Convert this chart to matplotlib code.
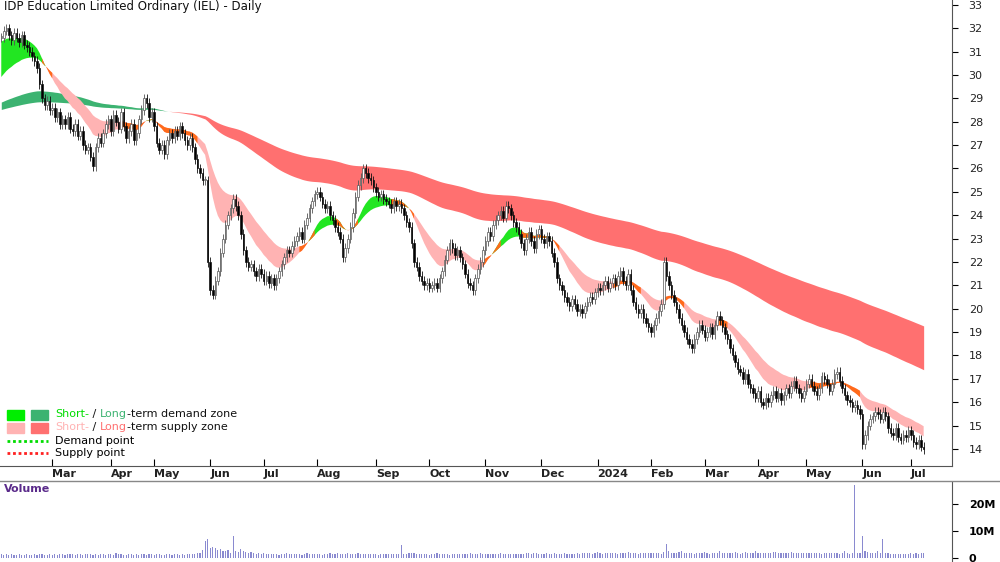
import numpy as np
import matplotlib
matplotlib.use("Agg")
import matplotlib.pyplot as plt
from matplotlib.patches import Rectangle
from matplotlib.lines import Line2D

title = "IDP Education Limited Ordinary (IEL) - Daily"
closes = [
31.6,31.9,32.0,31.7,31.5, 31.8,31.6,31.4,31.7,31.3, 31.2,31.0,30.8,30.6,30.3, 29.6,29.0,28.7,28.9,28.5,
28.6,28.2,28.4,27.9,28.1, 27.9,28.2,27.7,27.6,27.9, 27.4,27.6,27.0,26.8,26.9, 26.5,26.1,26.9,27.3,27.1,
27.5,27.9,28.1,27.6,28.3, 28.0,27.7,28.4,27.8,27.3, 27.6,27.9,27.2,27.5,28.1, 28.5,29.0,28.8,28.2,28.4,
27.8,27.1,26.8,27.0,26.6, 27.2,27.5,27.3,27.6,27.4, 27.8,27.5,27.2,27.0,27.3, 26.9,26.4,26.0,25.8,25.5,
25.5,22.0,20.8,20.6,21.2, 21.6,22.4,23.0,23.6,24.0, 24.3,24.7,24.4,24.0,23.2, 22.5,22.0,21.8,21.9,21.6,
21.4,21.7,21.5,21.2,21.4, 21.1,21.3,21.0,21.3,21.6, 21.9,22.2,22.5,22.4,22.7, 22.9,23.1,23.3,23.0,23.6,
23.9,24.3,24.6,24.9,25.0, 24.8,24.5,24.3,24.4,24.0, 23.8,23.5,23.3,23.0,22.2, 22.6,23.0,23.5,24.1,24.8,
25.3,25.6,26.0,25.8,25.6, 25.5,25.2,25.0,24.8,24.9, 24.7,24.6,24.5,24.3,24.6, 24.4,24.5,24.3,24.0,23.7,
23.5,22.8,22.0,21.8,21.4, 21.2,21.0,21.1,20.9,21.0, 21.1,20.9,21.3,21.6,22.1, 22.5,22.8,22.6,22.3,22.5,
22.2,21.9,21.5,21.1,21.0, 20.8,21.3,21.7,22.0,22.5, 22.9,23.3,23.1,23.6,23.8, 24.0,24.2,23.9,24.4,24.3,
24.0,23.7,23.5,23.2,22.8, 22.5,23.0,23.3,22.9,22.6, 23.2,23.4,23.0,22.8,23.1, 22.9,22.4,22.0,21.3,21.0,
20.8,20.5,20.3,20.1,20.4, 20.2,19.9,20.0,19.8,20.1, 20.3,20.5,20.4,20.7,20.9, 20.8,21.0,21.2,20.9,21.1,
21.3,21.0,21.4,21.6,21.2, 21.0,21.5,20.8,20.3,20.0, 19.8,20.0,19.6,19.4,19.2, 19.0,19.3,19.6,19.9,20.2,
22.0,21.4,21.0,20.6,20.3, 20.0,19.6,19.3,19.0,18.7, 18.5,18.3,18.7,19.0,19.3, 19.1,18.8,19.0,19.2,18.9,
19.3,19.7,19.5,19.2,18.9, 18.7,18.3,18.0,17.7,17.4, 17.3,17.0,17.2,16.8,16.6, 16.4,16.2,16.5,16.0,15.9,
16.2,16.0,16.3,16.5,16.2, 16.4,16.1,16.3,16.6,16.4, 16.7,16.9,16.6,16.4,16.2, 16.5,16.8,17.0,16.7,16.5,
16.3,16.6,17.1,17.0,16.8, 16.5,16.8,17.2,17.3,16.9, 16.6,16.3,16.1,16.0,15.8, 15.9,15.7,15.5,14.2,14.6,
15.0,15.3,15.4,15.6,15.5, 15.3,15.6,15.4,14.9,14.7, 14.6,14.9,14.5,14.4,14.6, 14.5,14.8,14.6,14.3,14.2,
14.4,14.1,14.0]
volume_m = [
1.5,1.2,1.4,1.1,1.3, 1.2,1.0,1.3,1.1,1.2, 1.4,1.1,1.0,1.3,1.2, 1.6,1.3,1.2,1.1,1.4, 1.2,1.3,1.1,1.5,1.3,
1.2,1.4,1.6,1.3,1.2, 1.5,1.3,1.1,1.4,1.6, 1.3,1.2,1.5,1.1,1.3, 1.4,1.2,1.6,1.3,1.2, 1.8,1.3,1.4,1.2,1.1,
1.3,1.5,1.2,1.3,1.1, 1.4,1.3,1.2,1.5,1.3, 1.2,1.4,1.3,1.1,1.2, 1.3,1.5,1.2,1.4,1.3, 1.2,1.3,1.1,1.4,1.6,
1.3,1.5,1.8,2.0,3.0, 6.2,7.0,3.5,4.2,3.8, 3.0,3.3,2.6,2.4,2.8, 2.0,8.2,2.5,2.2,3.4, 2.6,2.2,1.8,2.1,1.7,
1.6,1.8,1.5,1.7,1.4, 1.5,1.3,1.6,1.4,1.2, 1.5,1.3,1.7,1.4,1.6, 1.3,1.5,1.4,1.2,1.6, 1.8,1.5,1.3,1.4,1.6,
1.4,1.2,1.5,1.3,1.7, 1.5,1.4,2.0,1.6,1.3, 1.6,1.8,1.5,1.4,1.3, 1.7,1.4,1.6,1.3,1.5, 1.4,1.3,1.5,1.2,1.4,
1.3,1.5,1.6,1.4,1.5, 1.3,1.5,4.8,1.6,1.4, 1.8,2.0,1.7,1.5,1.6, 1.4,1.3,1.5,1.2,1.6, 1.4,1.7,1.5,1.3,1.4,
1.5,1.2,1.4,1.6,1.3, 1.4,1.6,1.5,1.3,1.7, 1.6,1.4,1.5,1.8,1.6, 1.5,1.3,1.6,1.4,1.5, 1.4,1.7,1.5,1.3,1.6,
1.5,1.4,1.6,1.3,1.5, 1.6,2.0,1.7,1.5,1.8, 1.7,1.5,1.6,1.4,1.8, 1.6,1.5,1.7,1.4,1.6, 1.5,1.7,1.6,1.4,1.5,
1.6,1.8,1.5,1.7,2.0, 1.7,1.9,1.6,1.8,2.1, 1.7,1.6,1.9,1.8,1.7, 2.0,1.8,1.6,1.9,1.7, 1.8,2.2,1.9,1.7,1.8,
1.6,1.9,1.8,2.0,1.7, 1.8,1.7,2.0,1.9,1.6, 2.2,5.2,2.6,2.0,1.8, 1.9,2.1,2.4,1.8,1.7, 2.0,1.8,1.6,1.9,1.8,
1.7,2.2,1.9,1.6,1.7, 1.9,1.8,2.5,1.7,1.9, 1.7,2.0,1.8,2.1,1.8, 1.6,1.9,2.2,1.7,1.9, 1.8,2.4,2.0,1.8,1.7,
1.9,2.0,1.8,2.2,2.1, 1.8,1.9,2.0,1.7,1.8, 2.1,1.9,1.7,2.0,1.9, 1.7,1.8,2.0,1.8,1.7, 1.9,1.8,1.6,1.7,1.8,
1.7,2.0,1.8,1.9,1.6, 1.9,2.6,1.9,1.6,1.8, 27.0,1.8,2.0,8.0,2.6, 2.2,2.0,1.9,1.8,2.4, 1.7,7.0,1.8,1.7,1.5,
1.4,1.6,1.5,1.3,1.6, 1.4,1.5,1.7,1.4,1.9, 1.6,1.8,2.0]
month_labels = ["Mar","Apr","May","Jun","Jul","Aug","Sep","Oct","Nov","Dec","2024","Feb","Mar","Apr","May","Jun","Jul"]
month_idx = [20,43,60,82,103,124,147,168,190,212,234,255,276,297,316,338,357]
price_ticks = list(range(14, 34))
short_periods = (15, 30)
long_periods = (130, 230)
short_seeds = (31.4, 29.8)
long_seeds = (28.8, 28.5)

c = np.array(closes)
n = len(c)
o = np.concatenate([[c[0]], c[:-1]])
hi = np.maximum(o, c) + 0.2
lo = np.minimum(o, c) - 0.2
vol = np.array((volume_m + [1.5] * n)[:n])

def ema(x, p, seed):
    a = 2 / (p + 1)
    out = np.empty(len(x)); v = seed
    for i, xv in enumerate(x):
        v = v + a * (xv - v); out[i] = v
    return out

sf, ss = ema(c, short_periods[0], short_seeds[0]), ema(c, short_periods[1], short_seeds[1])
lf, ls = ema(c, long_periods[0], long_seeds[0]), ema(c, long_periods[1], long_seeds[1])
x = np.arange(n)

fig = plt.figure(figsize=(10, 5.62), dpi=100)
W, H = 1000, 562
ax = fig.add_axes([0, (H - 466) / H, 952 / W, 466 / H])
axv = fig.add_axes([0, 0, 952 / W, 80 / H])
xmin, xmax = -0.5, 952 / 2.548 - 0.5
ax.set_xlim(xmin, xmax); axv.set_xlim(xmin, xmax)
ax.set_ylim(13.27, 33.21)

ax.fill_between(x, lf, ls, where=lf >= ls, color="#3cb371", lw=0, interpolate=True)
ax.fill_between(x, lf, ls, where=lf < ls, color="#ff7070", lw=0, interpolate=True)
thin = np.abs(sf - ss) < 0.3
ax.fill_between(x, sf, ss, where=(sf >= ss), color="#22e622", lw=0, interpolate=True)
ax.fill_between(x, sf, ss, where=(sf < ss), color="#ffb3b3", lw=0, interpolate=True)
ax.fill_between(x, sf, ss, where=thin, color="#ff6a1a", lw=0, interpolate=True)

for i in range(n):
    up = c[i] >= o[i]
    col = "#555555" if up else "#111111"
    ax.vlines(i, lo[i], hi[i], color=col, lw=0.6, zorder=3)
    b0, b1 = min(o[i], c[i]), max(o[i], c[i])
    if b1 - b0 < 0.05:
        b1 = b0 + 0.05
    ax.add_patch(Rectangle((i - 0.3, b0), 0.6, b1 - b0, facecolor="white" if up else "black",
                           edgecolor=col, lw=0.5, zorder=4))

ax.yaxis.tick_right()
ax.set_yticks(price_ticks)
ax.set_yticklabels([str(t) for t in price_ticks], fontsize=8, color="#222222")
ax.tick_params(axis="y", direction="out", length=4, pad=8)
ax.set_xticks(month_idx)
ax.set_xticklabels(month_labels, fontsize=8, fontweight="bold", ha="left", color="#222222")
ax.tick_params(axis="x", direction="in", length=5, pad=2)
for s in ["top", "left"]:
    ax.spines[s].set_visible(False)
ax.spines["bottom"].set_color("#555555"); ax.spines["right"].set_color("#555555")
ax.text(0.004, 0.999, title, transform=ax.transAxes, va="top", ha="left", fontsize=8.5, color="#111111")

axv.bar(x, vol, width=0.45, color="#8a8ad0")
axv.set_ylim(-1.5, 28.1)
axv.yaxis.tick_right()
axv.set_yticks([0, 10, 20]); axv.set_yticklabels(["0", "10M", "20M"], fontsize=8, fontweight="bold")
axv.tick_params(axis="y", length=4, pad=8)
axv.set_xticks([])
for s in ["top", "left", "bottom"]:
    axv.spines[s].set_visible(False)
axv.spines["right"].set_color("#555555")
axv.text(0.004, 0.97, "Volume", transform=axv.transAxes, va="top", fontsize=8, fontweight="bold", color="#5a2a8a")
fig.add_artist(Line2D([0, 1], [(H - 481) / H] * 2, color="#888888", lw=1))

def fx(px): return px / W
def fy(py): return 1 - py / H
rend = fig.canvas.get_renderer()
def seq(x0, y0, parts):
    xp = x0
    for t, col in parts:
        tt = fig.text(fx(xp), fy(y0), t, color=col, fontsize=8, va="center", ha="left")
        xp += tt.get_window_extent(rend).width
fig.add_artist(Rectangle((fx(7), fy(420)), fx(17), 10 / H, color="#00ee00", transform=fig.transFigure))
fig.add_artist(Rectangle((fx(31), fy(420)), fx(17), 10 / H, color="#3cb371", transform=fig.transFigure))
fig.add_artist(Rectangle((fx(7), fy(433)), fx(17), 10 / H, color="#ffb3b3", transform=fig.transFigure))
fig.add_artist(Rectangle((fx(31), fy(433)), fx(17), 10 / H, color="#ff7070", transform=fig.transFigure))
seq(55, 414, [("Short-", "#00dd00"), (" / ", "#111111"), ("Long", "#3cb371"), ("-term demand zone", "#111111")])
seq(55, 427, [("Short-", "#ffb3b3"), (" / ", "#111111"), ("Long", "#ff7070"), ("-term supply zone", "#111111")])
fig.add_artist(Line2D([fx(7), fx(48)], [fy(441)] * 2, color="#00dd00", lw=2, ls=(0, (1, 1))))
fig.add_artist(Line2D([fx(7), fx(48)], [fy(453)] * 2, color="#ff2020", lw=2, ls=(0, (1, 1))))
fig.text(fx(55), fy(441), "Demand point", fontsize=8, va="center")
fig.text(fx(55), fy(453), "Supply point", fontsize=8, va="center")

fig.savefig("out.png", dpi=100)
